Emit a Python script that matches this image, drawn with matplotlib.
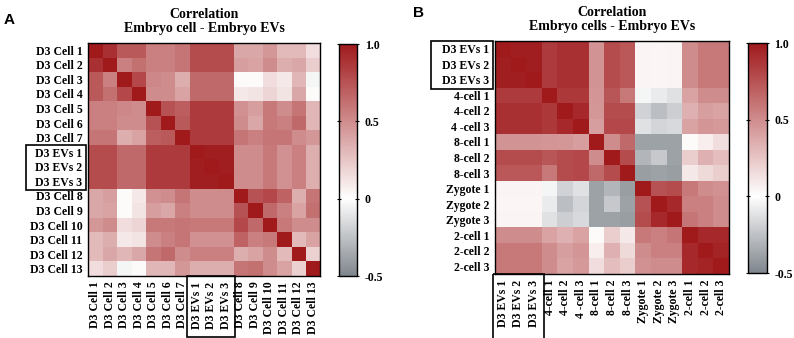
import matplotlib
matplotlib.use("Agg")
import matplotlib.pyplot as plt
import numpy as np
from matplotlib.colors import LinearSegmentedColormap, Normalize
from matplotlib.patches import Rectangle
import matplotlib.transforms as mtransforms

# panel A : D3 cells vs D3 EVs
labels_a = ["D3 Cell 1", "D3 Cell 2", "D3 Cell 3", "D3 Cell 4", "D3 Cell 5",
            "D3 Cell 6", "D3 Cell 7", "D3 EVs 1", "D3 EVs 2", "D3 EVs 3",
            "D3 Cell 8", "D3 Cell 9", "D3 Cell 10", "D3 Cell 11", "D3 Cell 12",
            "D3 Cell 13"]
corr_a = [
    [1.00, 0.90, 0.72, 0.72, 0.55, 0.55, 0.60, 0.78, 0.78, 0.78, 0.38, 0.38, 0.45, 0.30, 0.30, 0.15],
    [0.90, 1.00, 0.55, 0.62, 0.55, 0.55, 0.60, 0.78, 0.78, 0.78, 0.42, 0.40, 0.50, 0.35, 0.38, 0.22],
    [0.72, 0.55, 1.00, 0.80, 0.52, 0.50, 0.35, 0.65, 0.65, 0.65, 0.02, 0.02, 0.15, 0.10, 0.32, -0.04],
    [0.72, 0.62, 0.80, 1.00, 0.50, 0.50, 0.40, 0.65, 0.65, 0.65, 0.10, 0.12, 0.18, 0.12, 0.38, 0.02],
    [0.55, 0.55, 0.52, 0.50, 1.00, 0.75, 0.70, 0.85, 0.85, 0.85, 0.48, 0.42, 0.58, 0.50, 0.60, 0.32],
    [0.55, 0.55, 0.50, 0.50, 0.75, 1.00, 0.72, 0.85, 0.85, 0.85, 0.50, 0.38, 0.58, 0.55, 0.65, 0.32],
    [0.60, 0.60, 0.35, 0.40, 0.70, 0.72, 1.00, 0.85, 0.85, 0.85, 0.60, 0.55, 0.60, 0.60, 0.50, 0.45],
    [0.78, 0.78, 0.65, 0.65, 0.85, 0.85, 0.85, 1.00, 0.98, 0.98, 0.50, 0.50, 0.58, 0.48, 0.55, 0.35],
    [0.78, 0.78, 0.65, 0.65, 0.85, 0.85, 0.85, 0.98, 1.00, 0.98, 0.50, 0.50, 0.58, 0.48, 0.55, 0.35],
    [0.78, 0.78, 0.65, 0.65, 0.85, 0.85, 0.85, 0.98, 0.98, 1.00, 0.50, 0.50, 0.58, 0.48, 0.55, 0.35],
    [0.38, 0.42, 0.02, 0.10, 0.48, 0.50, 0.60, 0.50, 0.50, 0.50, 1.00, 0.75, 0.80, 0.68, 0.35, 0.60],
    [0.38, 0.40, 0.02, 0.12, 0.42, 0.38, 0.55, 0.50, 0.50, 0.50, 0.75, 1.00, 0.65, 0.55, 0.40, 0.62],
    [0.45, 0.50, 0.15, 0.18, 0.58, 0.58, 0.60, 0.58, 0.58, 0.58, 0.80, 0.65, 1.00, 0.58, 0.50, 0.50],
    [0.30, 0.35, 0.10, 0.12, 0.50, 0.55, 0.60, 0.48, 0.48, 0.48, 0.68, 0.55, 0.58, 1.00, 0.30, 0.40],
    [0.30, 0.38, 0.32, 0.38, 0.60, 0.65, 0.50, 0.55, 0.55, 0.55, 0.35, 0.40, 0.50, 0.30, 1.00, 0.20],
    [0.15, 0.22, -0.04, 0.02, 0.32, 0.32, 0.45, 0.35, 0.35, 0.35, 0.60, 0.62, 0.50, 0.40, 0.20, 1.00],
]

# panel B : embryo stages vs D3 EVs
xlabels_b = ["D3 EVs 1", "D3 EVs 2", "D3 EVs 3", "4-cell 1", "4-cell 2", "4 -cell 3",
             "8-cell 1", "8-cell 2", "8-cell 3", "Zygote 1", "Zygote 2", "Zygote 3",
             "2-cell 1", "2-cell 2", "2-cell 3"]
ylabels_b = ["D3 EVs 1", "D3 EVs 2", "D3 EVs 3", "4-cell 1", "4-cell 2", "4 -cell 3",
             "8-cell 1", "8-cell 2", "8-cell 3", "Zygote 1", "Zygote 2", "Zygote 3",
             "2-cell 1", "2-cell 2", "2-cell 3"]
corr_b = [
    [1.00, 0.98, 0.98, 0.85, 0.90, 0.90, 0.47, 0.78, 0.73, 0.05, 0.04, 0.05, 0.50, 0.58, 0.58],
    [0.98, 1.00, 0.98, 0.85, 0.90, 0.90, 0.47, 0.78, 0.73, 0.05, 0.04, 0.05, 0.50, 0.58, 0.58],
    [0.98, 0.98, 1.00, 0.85, 0.90, 0.90, 0.47, 0.78, 0.73, 0.05, 0.04, 0.05, 0.50, 0.58, 0.58],
    [0.85, 0.85, 0.85, 1.00, 0.86, 0.86, 0.46, 0.74, 0.58, -0.04, -0.08, -0.12, 0.40, 0.50, 0.50],
    [0.90, 0.90, 0.90, 0.86, 1.00, 0.93, 0.45, 0.78, 0.78, -0.18, -0.26, -0.20, 0.34, 0.42, 0.40],
    [0.90, 0.90, 0.90, 0.86, 0.93, 1.00, 0.42, 0.80, 0.80, -0.12, -0.17, -0.15, 0.40, 0.46, 0.44],
    [0.47, 0.47, 0.47, 0.46, 0.45, 0.42, 1.00, 0.50, 0.65, -0.38, -0.38, -0.38, 0.02, 0.07, 0.15],
    [0.78, 0.78, 0.78, 0.74, 0.78, 0.80, 0.50, 1.00, 0.78, -0.30, -0.22, -0.38, 0.22, 0.34, 0.28],
    [0.73, 0.73, 0.73, 0.58, 0.78, 0.80, 0.65, 0.78, 1.00, -0.40, -0.38, -0.40, 0.10, 0.16, 0.22],
    [0.05, 0.05, 0.05, -0.04, -0.18, -0.12, -0.38, -0.30, -0.40, 1.00, 0.75, 0.78, 0.58, 0.50, 0.48],
    [0.04, 0.04, 0.04, -0.08, -0.26, -0.17, -0.38, -0.22, -0.38, 0.75, 1.00, 0.93, 0.55, 0.55, 0.50],
    [0.05, 0.05, 0.05, -0.12, -0.20, -0.15, -0.38, -0.38, -0.40, 0.78, 0.93, 1.00, 0.60, 0.55, 0.50],
    [0.50, 0.50, 0.50, 0.40, 0.34, 0.40, 0.02, 0.22, 0.10, 0.58, 0.55, 0.60, 1.00, 0.93, 0.93],
    [0.58, 0.58, 0.58, 0.50, 0.42, 0.46, 0.07, 0.34, 0.16, 0.50, 0.55, 0.55, 0.93, 1.00, 0.95],
    [0.58, 0.58, 0.58, 0.50, 0.40, 0.44, 0.15, 0.28, 0.22, 0.48, 0.50, 0.50, 0.93, 0.95, 1.00],
]

cbar_ticks = [-0.5, 0, 0.5, 1.0]
cbar_ticklabels = ["-0.5", "0", "0.5", "1.0"]

serif = "Liberation Serif"
cmap = LinearSegmentedColormap.from_list(
    "grey_red", [(0.0, "#80868d"), (1 / 3, "#ffffff"), (1.0, "#a01a1c")])
norm = Normalize(vmin=-0.5, vmax=1.0)

fig = plt.figure(figsize=(7.94, 3.38), dpi=100)


def heat(rect, crect, data, xl, yl, title):
    ax = fig.add_axes(rect)
    im = ax.imshow(np.array(data), cmap=cmap, norm=norm, aspect="auto",
                   interpolation="nearest")
    ax.set_xticks(range(len(xl)))
    ax.set_yticks(range(len(yl)))
    ax.set_xticklabels(xl, rotation=90, fontfamily=serif, fontweight="bold", fontsize=8.5)
    ax.set_yticklabels(yl, fontfamily=serif, fontweight="bold", fontsize=8.5)
    ax.tick_params(length=0, pad=4)
    for s in ax.spines.values():
        s.set_linewidth(1.0)
    ax.set_title(title, fontfamily=serif, fontweight="bold", fontsize=10,
                 linespacing=1.05, pad=8)
    cax = fig.add_axes(crect)
    cb = fig.colorbar(im, cax=cax, ticks=cbar_ticks)
    cb.ax.set_yticklabels(cbar_ticklabels, fontfamily=serif, fontweight="bold", fontsize=8.5)
    cb.ax.tick_params(length=3, width=0.8, direction="inout", left=True, pad=4)
    cb.outline.set_linewidth(1.0)
    return ax


def label_box(ax, lo, hi, axis, depth):
    # rectangle around the EVs tick labels, outside the heatmap
    if axis == "y":
        tr = mtransforms.blended_transform_factory(ax.transAxes, ax.transData)
        r = Rectangle((depth, lo - 0.5), -0.01 - depth, hi - lo + 1.1, transform=tr,
                      fill=False, lw=1.2, ec="black", clip_on=False)
    else:
        tr = mtransforms.blended_transform_factory(ax.transData, ax.transAxes)
        r = Rectangle((lo - 0.65, 0), hi - lo + 1.3, depth, transform=tr,
                      fill=False, lw=1.2, ec="black", clip_on=False)
    ax.add_patch(r)


ax_a = heat([0.1108, 0.1834, 0.2922, 0.6893], [0.427, 0.1834, 0.0227, 0.686],
            corr_a, labels_a, labels_a, "Correlation\nEmbryo cell - Embryo EVs")
label_box(ax_a, 7, 9, "y", -0.267)
label_box(ax_a, 7, 9, "x", -0.262)

ax_b = heat([0.6234, 0.1893, 0.2947, 0.6893], [0.942, 0.1923, 0.0239, 0.680],
            corr_b, xlabels_b, ylabels_b, "Correlation\nEmbryo cells - Embryo EVs")
label_box(ax_b, 0, 2, "y", -0.274)
label_box(ax_b, 0, 2, "x", -0.29)

fig.text(0.004, 0.94, "A", fontfamily="Liberation Sans", fontweight="bold", fontsize=11,
         va="center")
fig.text(0.52, 0.963, "B", fontfamily="Liberation Sans", fontweight="bold", fontsize=11,
         va="center")

fig.savefig("out.png", dpi=100)
